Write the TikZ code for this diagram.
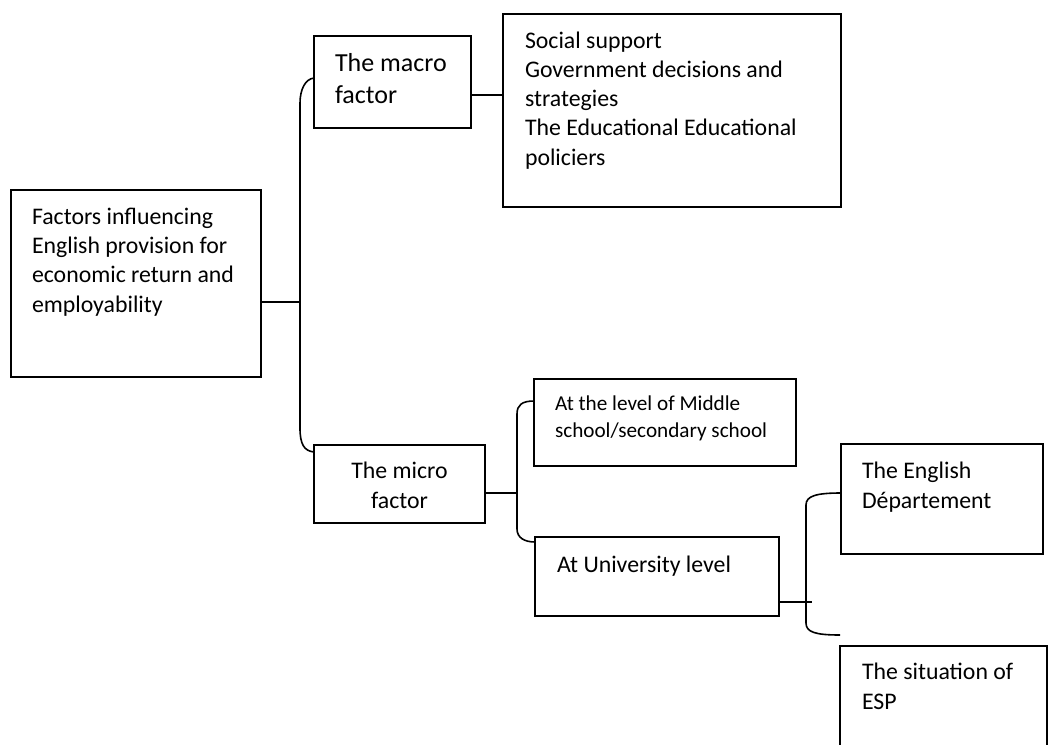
\documentclass[tikz,border=0pt]{standalone}
\usepackage{fontspec}
\setmainfont{Carlito}
\usetikzlibrary{calc}
\begin{document}
\begin{tikzpicture}[x=1pt,y=-1pt,line width=1.6pt,
  box/.style={draw,rectangle,inner sep=0pt,outer sep=0pt,anchor=north west},
  txt/.style={inner sep=0pt,outer sep=0pt,anchor=base west,align=left},
  fA/.style={font=\fontsize{23.8}{29.1}\selectfont},
  fB/.style={font=\fontsize{26}{31.6}\selectfont},
  fC/.style={font=\fontsize{21.2}{27}\selectfont}]
\useasboundingbox (0,0) rectangle (1048,744);
% boxes
\node[box,minimum width=250pt,minimum height=187pt] (root) at (11,190) {};
\node[box,minimum width=157pt,minimum height=92pt] (macro) at (314,36) {};
\node[box,minimum width=338pt,minimum height=193pt] (social) at (503,14) {};
\node[box,minimum width=171pt,minimum height=78pt] (micro) at (314,445) {};
\node[box,minimum width=262pt,minimum height=87pt] (middle) at (534,379) {};
\node[box,minimum width=244pt,minimum height=79pt] (univ) at (535,537) {};
\node[box,minimum width=202pt,minimum height=110pt] (english) at (841,444) {};
\node[box,minimum width=207pt,minimum height=150pt] (esp) at (840,646) {};
% texts (anchored at the baseline of their last line)
\node[txt,fA] (roottxt) at (32,312) {Factors influencing\\English provision for\\economic return and\\employability};
\node[txt,fB] (macrotxt) at (335,103.3) {The macro\\factor};
\node[txt,fA] (socialtxt) at (525,165) {Social support\\Government decisions and\\strategies\\The Educational Educational\\policiers};
\node[txt,fA,anchor=base,align=center] (microtxt) at (399.5,508) {The micro\\factor};
\node[txt,fC] (middletxt) at (555,437) {At the level of Middle\\school/secondary school};
\node[txt,fA] (univtxt) at (557,572) {At University level};
\node[txt,fA] (englishtxt) at (862,508) {The English\\D\'epartement};
\node[txt,fA] (esptxt) at (862,709) {The situation of\\ESP};
% junction coordinates
\coordinate (j0) at (487,95);
\coordinate (j1) at (300,302);
\coordinate (j1top) at (300,103);
\coordinate (j1bot) at (300,428);
\coordinate (j2) at (517,493);
\coordinate (j2top) at (517,414);
\coordinate (j2bot) at (517,529);
\coordinate (j3) at (812,602);
\coordinate (j3top) at (806,505);
\coordinate (j3bot) at (806,623);
% connectors
\draw (root.east |- j1) -- (j1);
\draw ([yshift=4pt]macro.west) .. controls +(-9,1) and +(0,-13) .. (j1top) -- (j1bot)
      .. controls +(0,16) and +(-10,-1) .. ([yshift=-7pt]micro.north west);
\draw (macro.east |- j0) -- (social.west |- j0);
\draw (micro.east |- j2) -- (j2);
\draw ([yshift=21.5pt]middle.west) .. controls +(-12,0) and +(0,-9) .. (j2top) -- (j2bot)
      .. controls +(0,9) and +(-10,0) .. ([yshift=-5pt]univ.north west);
\draw (univ.east |- j3) -- (j3);
\draw ([yshift=6pt]english.west) .. controls +(-25,0) and +(0,-9) .. (j3top) -- (j3bot)
      .. controls +(0,9) and +(-25,0) .. ([yshift=11pt]esp.north west);
\end{tikzpicture}
\end{document}
